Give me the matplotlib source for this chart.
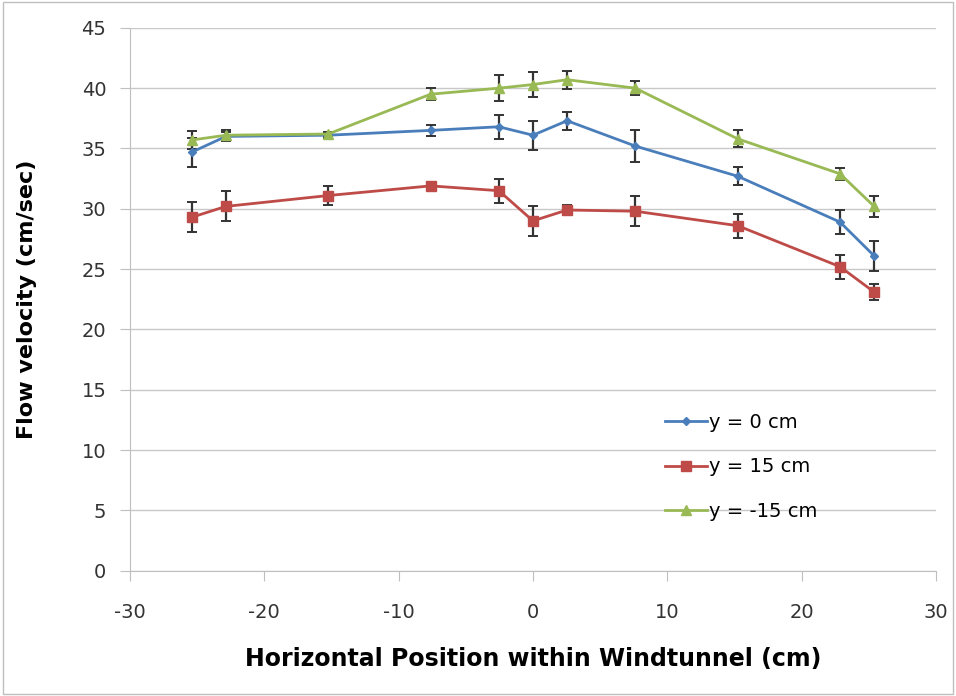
import matplotlib
matplotlib.use('Agg')
import matplotlib.pyplot as plt
from matplotlib.patches import Rectangle

plt.rcParams['axes.unicode_minus'] = False

# positions across the tunnel (cm)
x_pos = [-25.4, -22.86, -15.24, -7.62, -2.54, 0, 2.54, 7.62, 15.24, 22.86, 25.4]

# mean velocities (cm/sec) and error for each height
v_y0 = [34.7, 36.0, 36.1, 36.5, 36.8, 36.1, 37.3, 35.2, 32.7, 28.9, 26.1]
e_y0 = [1.2, 0.4, 0.2, 0.45, 1.0, 1.2, 0.75, 1.3, 0.75, 1.0, 1.25]

v_y15 = [29.3, 30.2, 31.1, 31.9, 31.5, 29.0, 29.9, 29.8, 28.6, 25.2, 23.1]
e_y15 = [1.25, 1.25, 0.75, 0.3, 1.0, 1.25, 0.4, 1.25, 1.0, 1.0, 0.7]

v_ym15 = [35.7, 36.1, 36.2, 39.5, 40.0, 40.3, 40.7, 40.0, 35.8, 32.9, 30.2]
e_ym15 = [0.75, 0.4, 0.2, 0.5, 1.1, 1.0, 0.75, 0.6, 0.7, 0.5, 0.9]

labels = ['y = 0 cm', 'y = 15 cm', 'y = -15 cm']

fig = plt.figure(figsize=(9.56, 6.96), dpi=100)
ax = fig.add_axes([0.136, 0.18, 0.843, 0.78])

# chart area border
fig.patches.append(Rectangle((0.003, 0.003), 0.994, 0.994, transform=fig.transFigure,
                             fill=False, edgecolor='#bfbfbf', linewidth=1))

series = [
    (v_y0, e_y0, '#4a7ebb', 'D', 4.5),
    (v_y15, e_y15, '#be4b48', 's', 7.5),
    (v_ym15, e_ym15, '#98b954', '^', 7),
]
for (vals, errs, col, mk, ms), lab in zip(series, labels):
    ax.errorbar(x_pos, vals, yerr=errs, fmt='none', ecolor='#333333',
                elinewidth=1.6, capsize=3.5, capthick=1.4, zorder=2)
    ax.plot(x_pos, vals, color=col, marker=mk, markersize=ms, linewidth=2,
            label=lab, zorder=3)

ax.set_xlim(-30, 30)
ax.set_ylim(0, 45)
ax.set_xticks(range(-30, 31, 10))
ax.set_yticks(range(0, 46, 5))
ax.yaxis.grid(True, color='#c8c8c8', linewidth=1)
ax.set_axisbelow(True)

for side in ['top', 'right']:
    ax.spines[side].set_visible(False)
for side in ['left', 'bottom']:
    ax.spines[side].set_color('#bfbfbf')
ax.tick_params(axis='both', colors='#bfbfbf', length=7, labelsize=14,
               labelcolor='#333333')
ax.tick_params(axis='x', pad=16)
ax.tick_params(axis='y', pad=10)

ax.set_xlabel('Horizontal Position within Windtunnel (cm)', fontsize=17,
              fontweight='bold', labelpad=18)
ax.set_ylabel('Flow velocity (cm/sec)', fontsize=16, fontweight='bold', labelpad=32)

ax.legend(loc='lower right', bbox_to_anchor=(0.875, 0.06), frameon=False,
          fontsize=14, handlelength=2.2, handletextpad=0.1, labelspacing=1.3)

fig.savefig('out.png', dpi=100)
